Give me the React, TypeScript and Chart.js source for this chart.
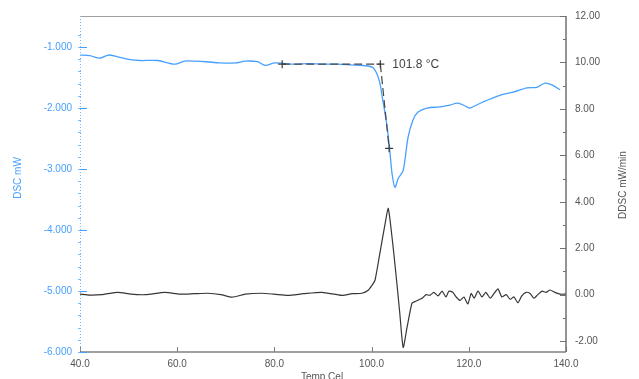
import React, { useEffect, useRef } from 'react';
import { Chart, registerables } from 'chart.js';
Chart.register(...registerables);

// DSC curve (left axis, mW) vs temperature (°C)
const dscTemps = [40.0, 42.0, 44.1, 45.8, 47.8, 50.0, 52.3, 56.0, 59.5, 61.5, 63.7, 66.0, 68.8, 72.0, 74.0, 76.5, 78.1, 80.1, 84.0, 87.0, 90.0, 93.0, 95.5, 97.6, 99.3, 100.3, 101.0, 101.7, 102.3, 103.2, 103.8, 104.2, 104.8, 105.5, 106.5, 107.5, 108.5, 109.5, 111.4, 114.1, 116.1, 117.8, 119.6, 120.2, 122.9, 126.4, 129.1, 132.0, 134.0, 135.7, 137.1, 138.8];
const dscValues = [-1.13, -1.14, -1.18, -1.13, -1.16, -1.20, -1.22, -1.22, -1.28, -1.23, -1.23, -1.24, -1.26, -1.26, -1.23, -1.24, -1.30, -1.26, -1.28, -1.27, -1.28, -1.28, -1.29, -1.30, -1.31, -1.34, -1.42, -1.59, -1.87, -2.31, -2.74, -3.07, -3.30, -3.15, -3.02, -2.48, -2.20, -2.07, -2.00, -1.98, -1.95, -1.92, -1.98, -2.00, -1.90, -1.79, -1.74, -1.67, -1.66, -1.59, -1.62, -1.70];

// DDSC curve (right axis, mW/min)
const ddscTemps = [40.0, 42.0, 44.5, 47.8, 50.5, 53.5, 57.5, 60.5, 63.5, 66.3, 69.0, 71.3, 74.0, 77.4, 80.0, 82.8, 86.0, 89.8, 93.9, 96.0, 98.0, 99.3, 100.1, 100.7, 101.7, 102.8, 103.4, 103.8, 104.5, 105.2, 105.8, 106.5, 107.3, 108.3, 108.9, 110.4, 111.2, 112.0, 112.8, 113.7, 114.5, 115.3, 115.9, 116.7, 117.4, 118.2, 119.0, 119.8, 120.5, 121.1, 121.9, 122.7, 123.5, 124.4, 125.2, 126.0, 126.8, 127.7, 128.5, 129.3, 130.1, 130.9, 131.8, 132.6, 133.4, 134.2, 135.1, 135.9, 136.7, 137.7, 138.8, 140.0];
const ddscValues = [0.02, -0.02, 0.00, 0.10, 0.02, 0.00, 0.10, 0.02, 0.04, 0.06, 0.00, -0.11, 0.02, 0.06, 0.02, -0.03, 0.04, 0.10, -0.03, 0.04, 0.06, 0.19, 0.41, 0.62, 1.78, 3.08, 3.72, 3.21, 1.91, 0.49, -0.80, -2.27, -1.40, -0.37, -0.30, -0.16, 0.00, -0.03, 0.10, -0.05, 0.15, -0.10, 0.15, 0.10, -0.10, -0.25, -0.10, -0.40, 0.05, -0.15, 0.15, -0.10, 0.10, -0.15, 0.05, 0.25, -0.10, 0.00, -0.20, -0.10, -0.35, -0.05, 0.10, 0.05, -0.15, 0.00, 0.15, 0.10, 0.20, 0.10, 0.02, 0.02];

// Onset construction (tangent lines)
const baselineTemps = [81.6, 101.8];
const baselineDsc = [-1.28, -1.28];
const tangentTemps = [101.8, 103.6];
const tangentDsc = [-1.28, -2.66];
const onsetLabel = '101.8 °C';

// Axis ticks
const xTicks = [40, 60, 80, 100, 120, 140];
const dscTicks = [-6, -5, -4, -3, -2, -1];
const ddscTicks = [-2, 0, 2, 4, 6, 8, 10, 12];
const xTitle = 'Temp Cel';
const dscTitle = 'DSC mW';
const ddscTitle = 'DDSC mW/min';

const FONT = '"Liberation Sans", Arial, sans-serif';
const BLUE = 'rgb(70,160,255)';
const DARK = 'rgb(55,55,55)';

const zip = (xs: number[], ys: number[]) => xs.map((x, i) => ({ x, y: ys[i] }));

const decorPlugin = {
  id: 'decor',
  afterDraw(chart: any) {
    const { ctx, chartArea } = chart;
    const { left, right, top, bottom } = chartArea;
    const xs = chart.scales.x;
    const y1 = chart.scales.y;
    const y2 = chart.scales.y2;
    ctx.save();
    // top frame line
    ctx.strokeStyle = '#a0a0a0';
    ctx.lineWidth = 1;
    ctx.beginPath();
    ctx.moveTo(left, top + 0.5);
    ctx.lineTo(right, top + 0.5);
    ctx.stroke();
    // bottom axis
    ctx.strokeStyle = '#808080';
    ctx.lineWidth = 1.5;
    ctx.beginPath();
    ctx.moveTo(left, bottom);
    ctx.lineTo(right, bottom);
    ctx.stroke();
    ctx.lineWidth = 1;
    xTicks.forEach((t) => {
      const px = Math.round(xs.getPixelForValue(t)) + 0.5;
      ctx.beginPath();
      ctx.moveTo(px, bottom);
      ctx.lineTo(px, bottom - 5);
      ctx.stroke();
    });
    // right axis
    ctx.strokeStyle = '#707070';
    ctx.lineWidth = 1.5;
    ctx.beginPath();
    ctx.moveTo(right, top);
    ctx.lineTo(right, bottom);
    ctx.stroke();
    ctx.lineWidth = 1;
    for (let v = -2; v <= 12; v += 1) {
      const py = Math.round(y2.getPixelForValue(v)) + 0.5;
      const len = v % 2 === 0 ? 6 : 3;
      ctx.beginPath();
      ctx.moveTo(right, py);
      ctx.lineTo(right - len, py);
      ctx.stroke();
    }
    // left axis (dotted, light blue)
    ctx.strokeStyle = 'rgb(120,185,255)';
    ctx.setLineDash([1, 2]);
    ctx.beginPath();
    ctx.moveTo(left + 0.5, top);
    ctx.lineTo(left + 0.5, bottom);
    ctx.stroke();
    ctx.setLineDash([]);
    for (let v = -6; v <= -0.6; v += 0.2) {
      const py = Math.round(y1.getPixelForValue(v)) + 0.5;
      ctx.beginPath();
      ctx.moveTo(left - 2, py);
      ctx.lineTo(left + 1, py);
      ctx.stroke();
    }
    ctx.strokeStyle = BLUE;
    dscTicks.forEach((v) => {
      const py = Math.round(y1.getPixelForValue(v)) + 0.5;
      ctx.beginPath();
      ctx.moveTo(left, py);
      ctx.lineTo(left + 7, py);
      ctx.stroke();
    });
    // onset label
    const lx = xs.getPixelForValue(baselineTemps[1]) + 12;
    const ly = y1.getPixelForValue(baselineDsc[1]);
    ctx.fillStyle = '#444';
    ctx.font = `12px ${FONT}`;
    ctx.textAlign = 'left';
    ctx.textBaseline = 'middle';
    ctx.fillText(onsetLabel, lx, ly + 1);
    // axis titles
    ctx.font = `10px ${FONT}`;
    ctx.textAlign = 'center';
    ctx.fillStyle = BLUE;
    ctx.save();
    ctx.translate(18, (top + bottom) / 2 - 6);
    ctx.rotate(-Math.PI / 2);
    ctx.fillText(dscTitle, 0, 0);
    ctx.restore();
    ctx.fillStyle = '#555';
    ctx.save();
    ctx.translate(623, 185);
    ctx.rotate(-Math.PI / 2);
    ctx.fillText(ddscTitle, 0, 0);
    ctx.restore();
    ctx.fillStyle = '#555';
    ctx.fillText(xTitle, 322, 377);
    ctx.restore();
  },
};

export default function App() {
  const ref = useRef<HTMLCanvasElement | null>(null);
  useEffect(() => {
    if (!ref.current) return;
    const chart = new Chart(ref.current, {
      type: 'line',
      data: {
        datasets: [
          {
            label: 'baseline',
            data: zip(baselineTemps, baselineDsc),
            yAxisID: 'y',
            borderColor: 'rgb(70,70,70)',
            borderWidth: 1.2,
            borderDash: [8, 4],
            pointStyle: 'cross',
            pointRadius: [4, 4],
            pointBorderColor: 'rgb(60,60,60)',
            pointBorderWidth: 1.2,
            fill: false,
          },
          {
            label: 'tangent',
            data: zip(tangentTemps, tangentDsc),
            yAxisID: 'y',
            borderColor: 'rgb(70,70,70)',
            borderWidth: 1.2,
            borderDash: [8, 4],
            pointStyle: 'cross',
            pointRadius: [0, 4],
            pointBorderColor: 'rgb(60,60,60)',
            pointBorderWidth: 1.2,
            fill: false,
          },
          {
            label: 'DSC',
            data: zip(dscTemps, dscValues),
            yAxisID: 'y',
            borderColor: BLUE,
            borderWidth: 1.3,
            pointRadius: 0,
            tension: 0.3,
            fill: false,
          },
          {
            label: 'DDSC',
            data: zip(ddscTemps, ddscValues),
            yAxisID: 'y2',
            borderColor: DARK,
            borderWidth: 1.2,
            pointRadius: 0,
            tension: 0.2,
            fill: false,
          },
        ],
      },
      options: {
        responsive: false,
        animation: false,
        devicePixelRatio: 1,
        layout: { padding: { top: 16, left: 0, right: 0, bottom: 0 } },
        plugins: { legend: { display: false }, tooltip: { enabled: false } },
        scales: {
          x: {
            type: 'linear',
            min: 40,
            max: 140,
            afterBuildTicks: (s: any) => { s.ticks = xTicks.map((v) => ({ value: v })); },
            afterFit: (s: any) => { s.height = 27; },
            grid: { display: false, drawTicks: false },
            border: { display: false },
            ticks: {
              padding: 6,
              maxRotation: 0,
              autoSkip: false,
              color: '#555',
              font: { family: FONT, size: 10 },
              callback: (v: any) => Number(v).toFixed(1),
            },
          },
          y: {
            type: 'linear',
            position: 'left',
            min: -6,
            max: -0.49,
            afterBuildTicks: (s: any) => { s.ticks = dscTicks.map((v) => ({ value: v })); },
            afterFit: (s: any) => { s.width = 80; },
            grid: { display: false, drawTicks: false },
            border: { display: false },
            ticks: {
              padding: 8,
              autoSkip: false,
              color: BLUE,
              font: { family: FONT, size: 10 },
              callback: (v: any) => Number(v).toFixed(3),
            },
          },
          y2: {
            type: 'linear',
            position: 'right',
            min: -2.47,
            max: 12,
            afterBuildTicks: (s: any) => { s.ticks = ddscTicks.map((v) => ({ value: v })); },
            afterFit: (s: any) => { s.width = 73; },
            grid: { display: false, drawTicks: false },
            border: { display: false },
            ticks: {
              padding: 9,
              autoSkip: false,
              color: '#555',
              font: { family: FONT, size: 10 },
              callback: (v: any) => Number(v).toFixed(2),
            },
          },
        },
      },
      plugins: [decorPlugin],
    } as any);
    return () => chart.destroy();
  }, []);
  return (
    <div style={{ position: 'absolute', left: 0, top: 0, width: 639, height: 379, background: '#fff' }}>
      <canvas ref={ref} width={639} height={379} />
    </div>
  );
}
